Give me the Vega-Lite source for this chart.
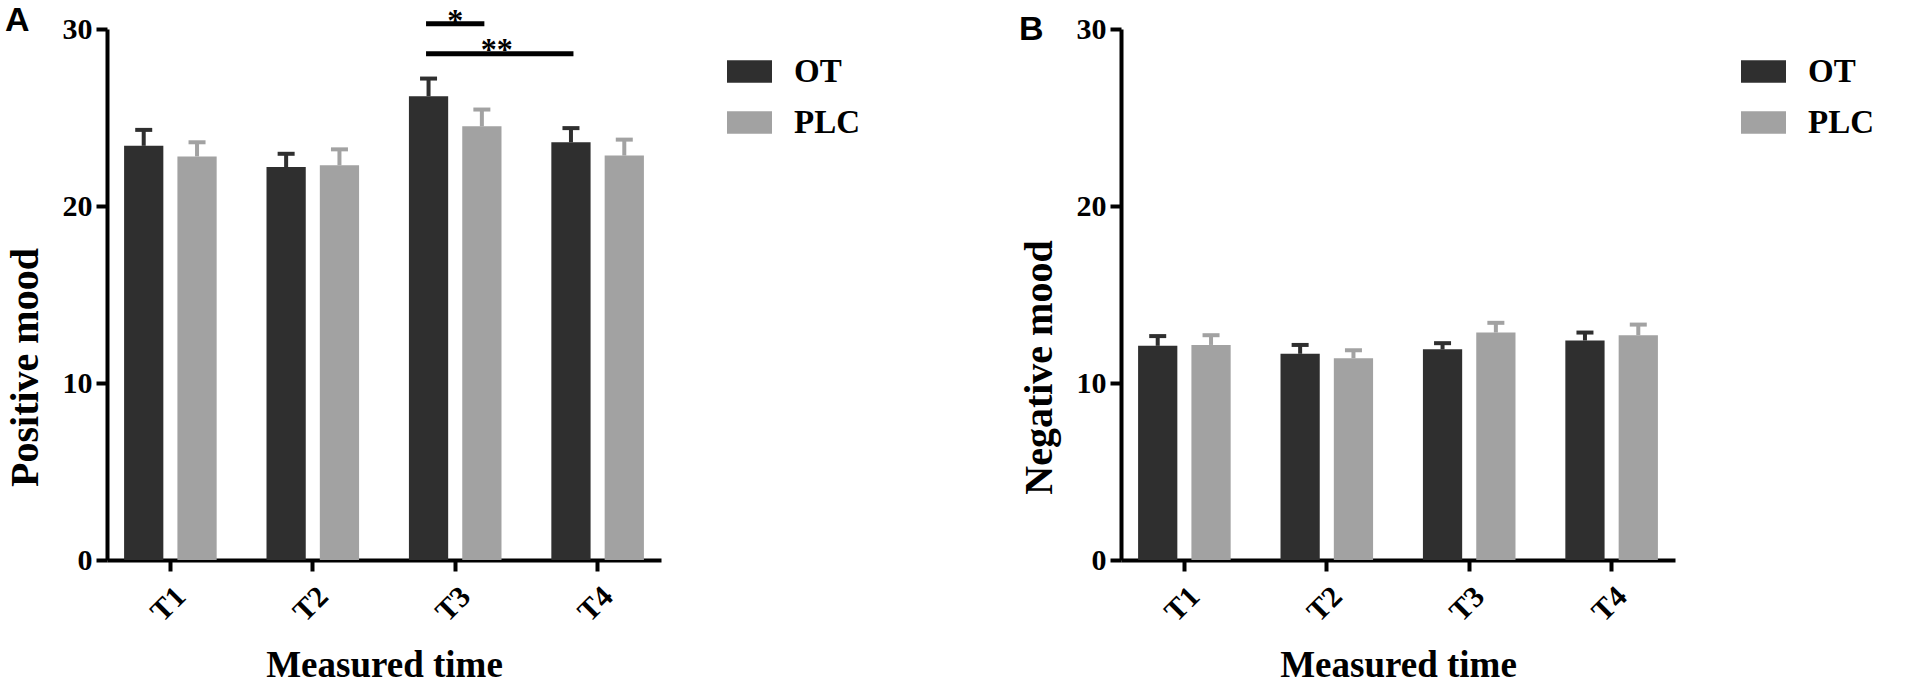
{
  "$schema": "https://vega.github.io/schema/vega-lite/v6.json",
  "padding": {"left": 5, "top": 3, "right": 0, "bottom": 0},
  "datasets": {
    "pos": [
      {"time": "T1", "group": "OT", "mean": 23.4, "upper": 24.3},
      {"time": "T1", "group": "PLC", "mean": 22.8, "upper": 23.6},
      {"time": "T2", "group": "OT", "mean": 22.2, "upper": 22.95},
      {"time": "T2", "group": "PLC", "mean": 22.3, "upper": 23.2},
      {"time": "T3", "group": "OT", "mean": 26.2, "upper": 27.2},
      {"time": "T3", "group": "PLC", "mean": 24.5, "upper": 25.45},
      {"time": "T4", "group": "OT", "mean": 23.6, "upper": 24.4},
      {"time": "T4", "group": "PLC", "mean": 22.85, "upper": 23.75}
    ],
    "neg": [
      {"time": "T1", "group": "OT", "mean": 12.1, "upper": 12.65},
      {"time": "T1", "group": "PLC", "mean": 12.15, "upper": 12.7},
      {"time": "T2", "group": "OT", "mean": 11.65, "upper": 12.15},
      {"time": "T2", "group": "PLC", "mean": 11.4, "upper": 11.85},
      {"time": "T3", "group": "OT", "mean": 11.9, "upper": 12.25},
      {"time": "T3", "group": "PLC", "mean": 12.85, "upper": 13.4},
      {"time": "T4", "group": "OT", "mean": 12.4, "upper": 12.85},
      {"time": "T4", "group": "PLC", "mean": 12.7, "upper": 13.3}
    ],
    "sigLines": [
      {"comp": "T3 OT vs PLC", "time": "T3", "group": "OT", "y": 30.3},
      {"comp": "T3 OT vs PLC", "time": "T3", "group": "PLC", "y": 30.3},
      {"comp": "T3 vs T4 OT", "time": "T3", "group": "OT", "y": 28.6},
      {"comp": "T3 vs T4 OT", "time": "T4", "group": "OT", "y": 28.6}
    ],
    "sigStar1": [{"time": "T3", "label": "*", "y": 29.9}],
    "sigStar2": [{"time": "T3", "group": "PLC", "label": "**", "y": 28.25}]
  },
  "config": {
    "font": "Liberation Serif",
    "view": {"stroke": null},
    "axis": {
      "grid": false,
      "domainColor": "black",
      "domainWidth": 4,
      "tickColor": "black",
      "tickWidth": 4,
      "tickSize": 11,
      "labelFont": "Liberation Serif",
      "labelFontWeight": "bold",
      "labelFontSize": 30,
      "labelColor": "black",
      "titleFont": "Liberation Serif",
      "titleFontWeight": "bold",
      "titleColor": "black"
    },
    "axisX": {"labelAngle": -45, "labelPadding": 10, "titleFontSize": 37, "titlePadding": 21},
    "axisY": {"labelPadding": 4, "titleFontSize": 40, "titlePadding": 17, "titleY": 338},
    "legend": {
      "orient": "none",
      "legendX": 620,
      "legendY": 20,
      "padding": 0,
      "symbolType": "M-1,-0.5H1V0.5H-1Z",
      "symbolSize": 2025,
      "symbolStrokeWidth": 0,
      "labelFont": "Liberation Serif",
      "labelFontSize": 33,
      "labelFontWeight": "bold",
      "labelColor": "black",
      "labelOffset": 22,
      "rowPadding": 11
    },
    "title": {"font": "Liberation Sans", "fontSize": 34, "fontWeight": "bold", "color": "black", "anchor": "start", "frame": "bounds", "offset": -33}
  },
  "spacing": 159,
  "resolve": {
    "scale": {"x": "independent", "y": "independent", "color": "independent", "xOffset": "independent"},
    "legend": {"color": "independent"}
  },
  "hconcat": [
    {
      "title": "A",
      "width": 554,
      "height": 531,
      "encoding": {
        "x": {
          "field": "time",
          "type": "nominal",
          "sort": ["T1", "T2", "T3", "T4"],
          "scale": {"paddingInner": 0.35, "paddingOuter": 0.12},
          "axis": {"title": "Measured time"}
        },
        "y": {
          "type": "quantitative",
          "scale": {"domain": [0, 30], "nice": false},
          "axis": {"title": "Positive mood", "values": [0, 10, 20, 30]}
        }
      },
      "layer": [
        {
          "data": {"name": "pos"},
          "mark": {"type": "bar"},
          "encoding": {
            "xOffset": {"field": "group", "type": "nominal", "scale": {"paddingInner": 0.264, "paddingOuter": 0}},
            "y": {"field": "mean", "type": "quantitative"},
            "color": {
              "field": "group",
              "type": "nominal",
              "scale": {"domain": ["OT", "PLC"], "range": ["#2f2f2f", "#a2a2a2"]},
              "legend": {"title": null}
            }
          }
        },
        {
          "data": {"name": "pos"},
          "mark": {"type": "rule", "strokeWidth": 4},
          "encoding": {
            "xOffset": {"field": "group", "type": "nominal"},
            "y": {"field": "mean", "type": "quantitative"},
            "y2": {"field": "upper"},
            "color": {"field": "group", "type": "nominal"}
          }
        },
        {
          "data": {"name": "pos"},
          "mark": {"type": "tick", "orient": "horizontal", "size": 17, "thickness": 4, "opacity": 1},
          "encoding": {
            "xOffset": {"field": "group", "type": "nominal"},
            "y": {"field": "upper", "type": "quantitative"},
            "color": {"field": "group", "type": "nominal"}
          }
        },
        {
          "data": {"name": "sigLines"},
          "mark": {"type": "line", "color": "black", "strokeWidth": 5, "strokeCap": "square"},
          "encoding": {
            "xOffset": {"field": "group", "type": "nominal"},
            "y": {"field": "y", "type": "quantitative"},
            "detail": {"field": "comp"}
          }
        },
        {
          "data": {"name": "sigStar1"},
          "mark": {"type": "text", "font": "Liberation Serif", "fontWeight": "bold", "fontSize": 32, "baseline": "alphabetic", "color": "black"},
          "encoding": {
            "y": {"field": "y", "type": "quantitative"},
            "text": {"field": "label"}
          }
        },
        {
          "data": {"name": "sigStar2"},
          "mark": {"type": "text", "font": "Liberation Serif", "fontWeight": "bold", "fontSize": 32, "baseline": "alphabetic", "color": "black", "dx": 15},
          "encoding": {
            "xOffset": {"field": "group", "type": "nominal"},
            "y": {"field": "y", "type": "quantitative"},
            "text": {"field": "label"}
          }
        }
      ]
    },
    {
      "title": "B",
      "width": 554,
      "height": 531,
      "data": {"name": "neg"},
      "encoding": {
        "x": {
          "field": "time",
          "type": "nominal",
          "sort": ["T1", "T2", "T3", "T4"],
          "scale": {"paddingInner": 0.35, "paddingOuter": 0.12},
          "axis": {"title": "Measured time"}
        },
        "xOffset": {"field": "group", "type": "nominal", "scale": {"paddingInner": 0.264, "paddingOuter": 0}},
        "color": {
          "field": "group",
          "type": "nominal",
          "scale": {"domain": ["OT", "PLC"], "range": ["#2f2f2f", "#a2a2a2"]},
          "legend": {"title": null}
        }
      },
      "layer": [
        {
          "mark": {"type": "bar"},
          "encoding": {
            "y": {
              "field": "mean",
              "type": "quantitative",
              "scale": {"domain": [0, 30], "nice": false},
              "axis": {"title": "Negative mood", "values": [0, 10, 20, 30]}
            }
          }
        },
        {
          "mark": {"type": "rule", "strokeWidth": 4},
          "encoding": {
            "y": {"field": "mean", "type": "quantitative"},
            "y2": {"field": "upper"}
          }
        },
        {
          "mark": {"type": "tick", "orient": "horizontal", "size": 17, "thickness": 4, "opacity": 1},
          "encoding": {
            "y": {"field": "upper", "type": "quantitative"}
          }
        }
      ]
    }
  ]
}
